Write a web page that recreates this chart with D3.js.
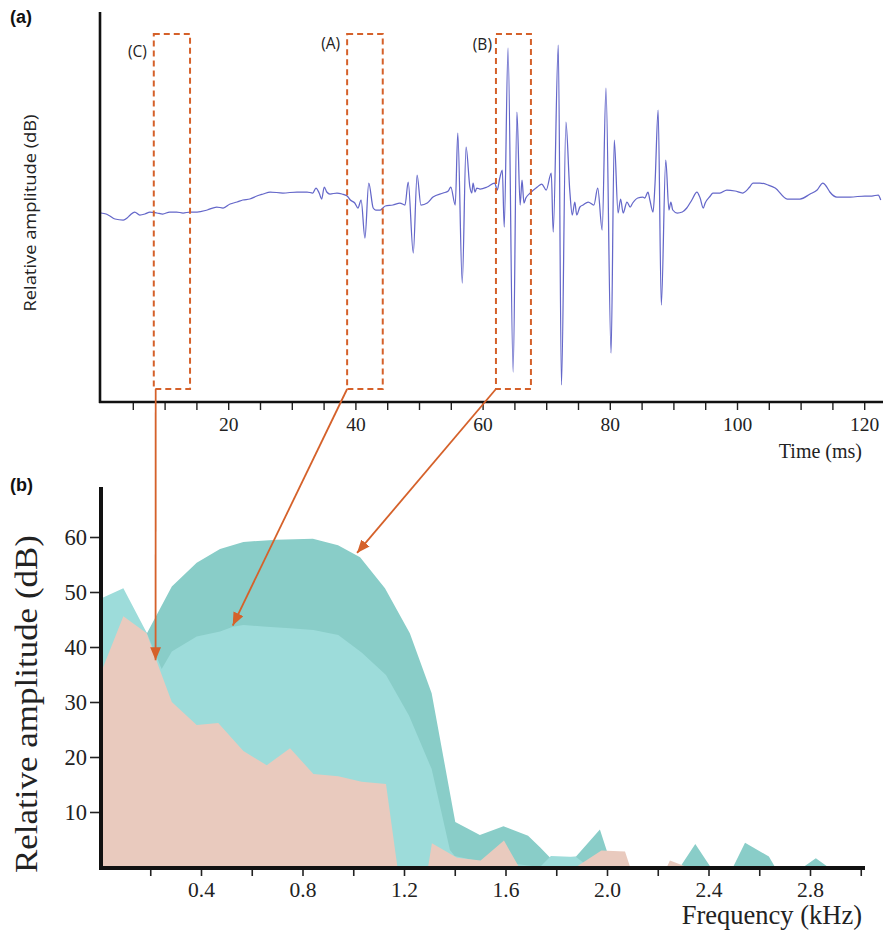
<!DOCTYPE html>
<html><head><meta charset="utf-8">
<script src="https://cdn.jsdelivr.net/npm/d3@7"></script>
<style>body{margin:0;background:#fff}svg{display:block}</style>
</head><body>
<svg id="c" width="883" height="936"></svg>
<script>
// ---------- (a) waveform: [time ms, relative amplitude] ----------
const wave = [[0.0,-6],[0.8,-7],[1.4,-9],[2.2,-12],[3.5,-13],[4.1,-11],[4.6,-8],[5.3,-5],[6.1,-8],[6.9,-7],[7.7,-5],[8.8,-6],[9.7,-7],[10.8,-5],[11.9,-5],[12.9,-6],[14.0,-5],[15.1,-5],[16.7,-3],[18.2,0],[19.2,-1],[20.3,3],[21.4,5],[22.3,7],[23.4,8],[24.5,11],[25.5,13],[26.6,15],[28.6,14],[30.8,15],[32.4,15],[33.3,14],[33.8,19],[34.3,14],[34.7,8],[35.1,20],[35.5,15],[36.0,13],[37.1,14],[37.9,13],
[38.7,11],[39.2,7],[39.9,4],[40.4,-1],[40.9,7],[41.5,-31],[42.1,24],[42.8,-1],[43.2,-3],[43.9,-3],[44.7,1],[45.9,2],
[47.0,4],[47.8,2],[48.3,25],[49.1,-46],[49.7,32],[50.3,2],[51.3,4],
[52.2,10],[53.8,14],[54.6,16],[55.0,20],[55.7,2],[56.1,74],[56.8,-76],[57.4,60],[58.0,20],[58.3,14],[58.5,24],[58.8,15],[59.1,19],[59.6,18],[60.7,20],
[61.9,24],[62.3,17],[62.7,29],[63.1,37],[63.4,-20],[64.0,159],[64.8,-165],[65.4,95],[65.9,2],[66.2,27],[66.5,4],[66.8,9],[67.5,14],[68.6,20],[69.3,23],[70.0,17],
[70.8,34],[71.1,-25],[71.9,162],[72.4,-178],[73.1,85],[73.7,17],[74.1,-8],[74.5,5],[74.8,-8],[75.3,0],[75.8,2],[76.6,5],[77.5,2],
[78.1,19],[78.8,-23],[79.4,119],[80.2,-146],[80.7,67],[81.3,-6],[81.7,8],[82.1,-6],[82.7,5],[83.2,0],[83.6,4],[84.4,9],[85.2,10],[85.5,9],[86.0,15],[86.3,7],
[86.8,-5],[87.1,22],[87.6,97],[88.1,-98],[88.8,47],[89.3,-3],[89.6,5],[89.9,-3],[90.6,-6],[91.4,-5],[92.1,-1],[92.9,7],[93.7,15],[94.2,9],[94.7,-1],[95.0,4],[95.8,11],[96.2,14],[97.3,14],[98.4,17],[99.7,16],[100.9,14],[102.0,20],[102.5,24],[103.6,24],[104.9,22],[106.0,19],[107.9,8],[109.9,8],[111.5,13],[112.6,17],[113.5,24],[114.0,21],[114.6,15],[115.7,10],[117.8,10],[120.1,11],[121.2,11],[122.2,12],[122.6,7]];

const timeTickValues = [5,10,15,20,25,30,35,40,45,50,55,60,65,70,75,80,85,90,95,100,105,110,115,120];
const timeTickLabels = [20,40,60,80,100,120];

// analysis windows
const boxNames = ["(C)","(A)","(B)"];
const boxStart = [8.3,38.7,62.1];
const boxEnd   = [14.0,44.3,67.6];
const arrowStartTime = [8.6,38.7,62.1];
const arrowTipFreq = [0.221,0.525,1.015];
const arrowTipDb   = [37.6,43.9,57.1];

// ---------- (b) spectra: [frequency kHz, relative amplitude dB] ----------
const spectrumB = [[0.01,45],[0.093,49],[0.187,42.5],[0.285,51],[0.383,55.3],[0.475,57.8],[0.567,59.1],[0.698,59.5],[0.841,59.7],[0.94,58.5],[1.027,56.3],[1.125,50.7],[1.223,42.5],[1.309,31.6],[1.402,8.2],[1.499,5.8],[1.592,7.4],[1.689,5.7],[1.736,3.6],[1.78,1.5],[1.878,1.9],[1.972,6.8],[2.02,0],[2.288,0],[2.348,4.2],[2.408,0],[2.497,0],[2.544,4.4],[2.638,1.9],[2.662,0],[2.774,0],[2.823,1.6],[2.871,0],[3.0,0]];
const spectrumA = [[0.01,48.9],[0.094,50.7],[0.187,42.5],[0.245,36],[0.285,39.2],[0.383,41.9],[0.475,42.8],[0.526,43.7],[0.567,44.0],[0.659,43.7],[0.751,43.4],[0.843,43.1],[0.941,42.2],[1.033,39.0],[1.129,34.9],[1.22,27.5],[1.309,17.8],[1.381,3.1],[1.40,2.0],[1.499,1.0],[1.594,0.8],[1.736,0],[1.779,2.0],[1.878,1.8],[1.93,0],[3.0,0]];
const spectrumC = [[0.01,35.8],[0.094,45.6],[0.186,42.5],[0.238,35.8],[0.285,30],[0.383,25.8],[0.468,26.2],[0.567,21.1],[0.659,18.5],[0.751,21.6],[0.843,16.9],[0.941,16.5],[1.033,15.5],[1.129,15.1],[1.174,0],[1.295,0],[1.31,4.3],[1.409,1.7],[1.502,1.2],[1.594,4.8],[1.653,0],[1.878,0],[1.978,3.0],[2.071,2.8],[2.091,0],[2.236,0],[2.248,1.2],[2.315,0],[3.0,0]];

const freqTickValues = [0.2,0.4,0.6,0.8,1.0,1.2,1.4,1.6,1.8,2.0,2.2,2.4,2.6,2.8,3.0];
const freqTickLabels = [0.4,0.8,1.2,1.6,2.0,2.4,2.8];
const dbTickValues = [10,20,30,40,50,60];

// ---------- drawing ----------
const svg = d3.select("#c");
const serif = "'Liberation Serif','Times New Roman',serif";
const sans = "'Open Sans','Liberation Sans',Arial,sans-serif";
const orange = "#D5612A";

const xT = d3.scaleLinear().domain([0,123]).range([101,101+123*6.36]);
const yT = d3.scaleLinear().domain([-195,195]).range([402,12]);
const xF = d3.scaleLinear().domain([0,3]).range([99.5,860.75]);
const yD = d3.scaleLinear().domain([0,69]).range([867,867-69*5.5]);

svg.append("defs").append("marker")
  .attr("id","ah").attr("viewBox","0 0 12 10").attr("refX",12).attr("refY",5)
  .attr("markerWidth",13).attr("markerHeight",11).attr("markerUnits","userSpaceOnUse")
  .attr("orient","auto")
  .append("path").attr("d","M0,0 L12,5 L0,10 Z").attr("fill",orange);

// ---- panel (b) areas ----
const area = d3.area().x(d=>xF(d[0])).y0(yD(0)).y1(d=>yD(d[1]));
svg.append("path").datum(spectrumB).attr("d",area).attr("fill","#89CDC8");
svg.append("path").datum(spectrumA).attr("fill","#9DDCDA").attr("d",area);
svg.append("path").datum(spectrumC).attr("fill","#E9CABE").attr("d",area);

// ---- panel (a) waveform ----
const line = d3.line().x(d=>xT(d[0])).y(d=>yT(d[1])).curve(d3.curveMonotoneX);
svg.append("path").datum(wave).attr("d",line).attr("fill","none")
  .attr("stroke","#6467C9").attr("stroke-width",1.25);

// top axes
const gx = svg.append("g").attr("transform",`translate(0,${yT(-195)})`)
  .call(d3.axisBottom(xT).tickValues(timeTickValues).tickSize(8).tickPadding(7)
    .tickFormat(d=>timeTickLabels.includes(d)?d:""));
gx.select(".domain").remove();
gx.selectAll(".tick line").attr("stroke","#222").attr("stroke-width",1.4);
gx.selectAll(".tick text").attr("font-family",serif).attr("font-size",19.5).attr("fill","#222");
svg.append("line").attr("x1",99).attr("x2",883).attr("y1",yT(-195)).attr("y2",yT(-195)).attr("stroke","#111").attr("stroke-width",2.6);
svg.append("line").attr("x1",100).attr("x2",100).attr("y1",yT(195)).attr("y2",yT(-195)+1).attr("stroke","#111").attr("stroke-width",2.6);

svg.append("text").attr("x",862).attr("y",458).attr("text-anchor","end")
  .attr("font-family",serif).attr("font-size",20).attr("fill","#222").text("Time (ms)");
svg.append("text").attr("transform","translate(36,213) rotate(-90)").attr("text-anchor","middle")
  .attr("font-family",sans).attr("font-size",16).attr("fill","#222")
  .attr("textLength",197).attr("lengthAdjust","spacingAndGlyphs").text("Relative amplitude (dB)");
svg.append("text").attr("x",10).attr("y",23).attr("font-family","'Liberation Sans',Arial,sans-serif")
  .attr("font-weight","bold").attr("font-size",18).attr("fill","#111").text("(a)");

// boxes
const labelY = [57,49,50];
boxNames.forEach((n,i)=>{
  const x0 = xT(boxStart[i]), x1 = xT(boxEnd[i]);
  svg.append("rect").attr("x",x0).attr("y",34).attr("width",x1-x0).attr("height",355)
    .attr("fill","none").attr("stroke",orange).attr("stroke-width",2).attr("stroke-dasharray","6,4");
  svg.append("text").attr("x",x0-(i===2?4:7)).attr("y",labelY[i]).attr("text-anchor","end")
    .attr("font-family",sans).attr("font-size",15.5).attr("fill","#222").text(n);
});

// ---- panel (b) axes ----
const gfx = svg.append("g").attr("transform",`translate(0,${yD(0)+1})`)
  .call(d3.axisBottom(xF).tickValues(freqTickValues).tickSize(8).tickPadding(6)
    .tickFormat(d=>freqTickLabels.some(v=>Math.abs(v-d)<1e-6)?d3.format(".1f")(d):""));
gfx.select(".domain").remove();
gfx.selectAll(".tick line").attr("stroke","#222").attr("stroke-width",1.6);
gfx.selectAll(".tick text").attr("font-family",serif).attr("font-size",21.5).attr("fill","#222");

const gfy = svg.append("g").attr("transform",`translate(101,0)`)
  .call(d3.axisLeft(yD).tickValues(dbTickValues).tickSize(11).tickPadding(3));
gfy.select(".domain").remove();
gfy.selectAll(".tick line").attr("stroke","#222").attr("stroke-width",1.6);
gfy.selectAll(".tick text").attr("font-family",serif).attr("font-size",22.5).attr("fill","#222");

svg.append("line").attr("x1",99).attr("x2",865).attr("y1",yD(0)+1).attr("y2",yD(0)+1).attr("stroke","#111").attr("stroke-width",4);
svg.append("line").attr("x1",101).attr("x2",101).attr("y1",487).attr("y2",yD(0)+3).attr("stroke","#111").attr("stroke-width",4);

svg.append("text").attr("x",862).attr("y",924).attr("text-anchor","end")
  .attr("font-family",serif).attr("font-size",26.5).attr("fill","#222").text("Frequency (kHz)");
svg.append("text").attr("transform","translate(37,704) rotate(-90)").attr("text-anchor","middle")
  .attr("font-family",serif).attr("font-size",31).attr("fill","#222")
  .attr("textLength",338).attr("lengthAdjust","spacingAndGlyphs").text("Relative amplitude (dB)");
svg.append("text").attr("x",10).attr("y",491).attr("font-family","'Liberation Sans',Arial,sans-serif")
  .attr("font-weight","bold").attr("font-size",18).attr("fill","#111").text("(b)");

// arrows linking windows to spectra
boxNames.forEach((n,i)=>{
  svg.append("line")
    .attr("x1",xT(arrowStartTime[i])).attr("y1",389)
    .attr("x2",xF(arrowTipFreq[i])).attr("y2",yD(arrowTipDb[i]))
    .attr("stroke",orange).attr("stroke-width",1.8).attr("marker-end","url(#ah)");
});
</script>
</body></html>
